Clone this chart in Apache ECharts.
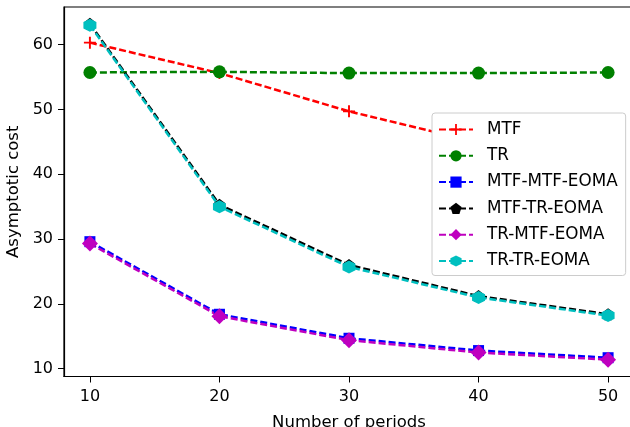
<!DOCTYPE html>
<html>
<head>
<meta charset="utf-8">
<script src="https://cdn.jsdelivr.net/npm/echarts@6/dist/echarts.min.js"></script>
<style>
  html, body { margin: 0; padding: 0; background: #fff; }
  #main { width: 630px; height: 427px; }
</style>
</head>
<body>
<div id="main"></div>
<script>
var periods = [10, 20, 30, 40, 50]
var yTicks = [10, 20, 30, 40, 50, 60]

var mtf = [60.3, 55.6, 49.7, 44.9, 40.0]
var tr = [55.7, 55.8, 55.6, 55.6, 55.7]
var mtfMtfEoma = [29.6, 18.4, 14.7, 12.8, 11.7]
var mtfTrEoma = [63.2, 35.3, 26.0, 21.2, 18.4]
var trMtfEoma = [29.3, 18.1, 14.4, 12.5, 11.4]
var trTrEoma = [63.0, 35.0, 25.7, 21.0, 18.2]

var plusPath = 'path://M4.2,0 L5.8,0 L5.8,4.2 L10,4.2 L10,5.8 L5.8,5.8 L5.8,10 L4.2,10 L4.2,5.8 L0,5.8 L0,4.2 L4.2,4.2 Z'
var pentaPath = 'path://M50,0 L97.6,34.5 L79.4,90.5 L20.6,90.5 L2.4,34.5 Z'
var hexPath = 'path://M50,0 L93.3,25 L93.3,75 L50,100 L6.7,75 L6.7,25 Z'

function pairs(vals) {
  return periods.map(function(p, i) { return [p, vals[i]] })
}

function makeSeries(name, vals, color, symbol, size) {
  return {
    name: name,
    type: 'line',
    data: pairs(vals),
    symbol: symbol,
    symbolSize: size,
    showSymbol: true,
    animation: false,
    itemStyle: { color: color },
    lineStyle: { color: color, width: 2.5, type: [7, 3] }
  }
}

var myChart = echarts.init(document.getElementById('main'))

var axisFont = { fontFamily: 'DejaVu Sans', fontSize: 16, color: '#000' }
var nameFont = { fontFamily: 'DejaVu Sans', fontSize: 16.5, color: '#000' }

// plot box runs a little past the right edge of the picture, like the original
var option = {
  backgroundColor: '#fff',
  grid: {
    left: 64, top: 7, right: -4, bottom: 50.5,
    show: true, borderColor: '#000', borderWidth: 1.2,
    containLabel: false,
    outerBoundsMode: 'none'
  },
  xAxis: {
    type: 'value',
    min: 8, max: 52,
    name: 'Number of periods',
    nameLocation: 'middle',
    nameGap: 38,
    nameTextStyle: nameFont,
    splitLine: { show: false },
    axisLine: { lineStyle: { color: '#000', width: 1.2 } },
    axisTick: { show: true, length: 6, lineStyle: { color: '#000' }, customValues: periods },
    axisLabel: Object.assign({ margin: 12, customValues: periods }, axisFont)
  },
  yAxis: {
    type: 'value',
    min: 8.8, max: 65.8,
    name: 'Asymptotic cost',
    nameLocation: 'middle',
    nameGap: 39,
    nameTextStyle: nameFont,
    splitLine: { show: false },
    axisLine: { show: true, lineStyle: { color: '#000', width: 1.2 } },
    axisTick: { show: true, length: 6, lineStyle: { color: '#000' }, customValues: yTicks },
    axisLabel: Object.assign({ margin: 11, customValues: yTicks }, axisFont)
  },
  legend: {
    orient: 'vertical',
    left: 432, top: 113,
    width: 193,
    z: 20,
    padding: [8, 8, 6, 6],
    backgroundColor: '#ffffff',
    borderColor: '#cccccc',
    borderWidth: 1,
    borderRadius: 3,
    itemWidth: 34,
    itemHeight: 14,
    itemGap: 9.3,
    textStyle: { fontFamily: 'DejaVu Sans', fontSize: 16.8, color: '#000', lineHeight: 16, padding: [0, 0, 0, 9] },
    data: ['MTF', 'TR', 'MTF-MTF-EOMA', 'MTF-TR-EOMA', 'TR-MTF-EOMA', 'TR-TR-EOMA']
  },
  series: [
    makeSeries('MTF', mtf, '#ff0000', plusPath, 12),
    makeSeries('TR', tr, '#008000', 'circle', 13),
    makeSeries('MTF-MTF-EOMA', mtfMtfEoma, '#0000ff', 'rect', 11),
    makeSeries('MTF-TR-EOMA', mtfTrEoma, '#000000', pentaPath, 12),
    makeSeries('TR-MTF-EOMA', trMtfEoma, '#bf00bf', 'diamond', 16),
    makeSeries('TR-TR-EOMA', trTrEoma, '#00bfbf', hexPath, 13)
  ]
}

myChart.setOption(option)
</script>
</body>
</html>
